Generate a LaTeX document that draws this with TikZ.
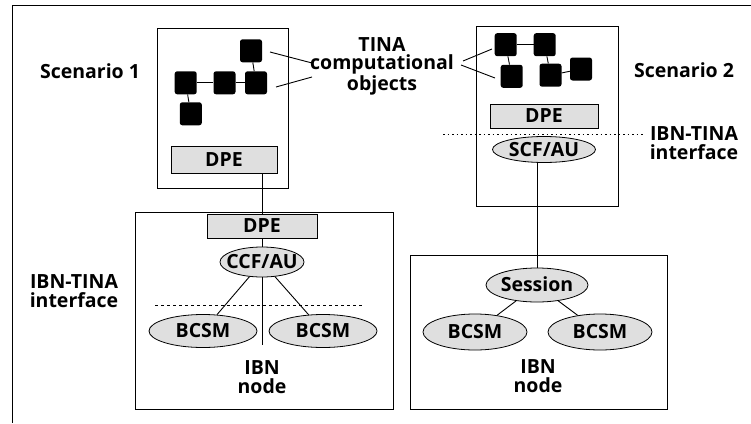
\documentclass[tikz,border=0pt]{standalone}
\usepackage{fontspec}
\setmainfont{Open Sans}
\usetikzlibrary{shapes.geometric}

% text set in a box of no size, centred on the caps, so that a node keeps its minimum size
\newcommand{\intext}[1]{\makebox[0pt]{\raisebox{-0.357em}[0pt][0pt]{#1}}}

\begin{document}
\begin{tikzpicture}[x=1pt,y=-1pt,
  every node/.style={font=\fontsize{19.5}{18.5}\selectfont\bfseries},
  lbl/.style={align=center, inner sep=0pt},
  panel/.style={draw, line width=0.9pt, inner sep=0pt},
  obj/.style={fill=black, rounded corners=2.5pt, minimum width=22pt, minimum height=23pt, inner sep=0pt},
  dpebox/.style={draw, line width=0.8pt, fill=gray!25, inner sep=0pt},
  unit/.style={ellipse, draw, line width=0.8pt, fill=gray!25, inner sep=0pt},
  link/.style={line width=0.9pt},
  ifdash/.style={line width=0.8pt, dash pattern=on 3pt off 3pt},
  ifdot/.style={line width=0.9pt, dash pattern=on 1.5pt off 3pt}
]
\useasboundingbox (0,0) rectangle (751,423);

% outer frame
\draw[line width=0.6pt] (751,5.5) -- (12,5.5) -- (12,423);

% ---------------- Scenario 1 ----------------
\node[panel, minimum width=131pt, minimum height=160pt] (s1) at (222.5,108) {};
\node[lbl] (sc1) at (90,71) {Scenario 1};

% computational objects
\node[obj] (a1) at (185.7,82.8) {};
\node[obj] (b1) at (224.5,82.8) {};
\node[obj] (c1) at (256,82.8) {};
\node[obj] (d1) at (251,50.8) {};
\node[obj] (e1) at (190.8,113.8) {};
\draw[link] (a1) -- (b1) -- (c1);
\draw[link] (d1) -- (c1);
\draw[link] (a1) -- (e1);

\node[dpebox, minimum width=106pt, minimum height=27pt] (dpe1) at (224,159.5) {\intext{DPE}};

% IBN node of scenario 1
\node[panel, minimum width=258pt, minimum height=197pt] (ibn1) at (264,310.5) {};
\node[dpebox, minimum width=110pt, minimum height=24pt] (dpe3) at (262,226) {\intext{DPE}};
\node[unit, minimum width=84pt, minimum height=30pt] (ccf) at (262,262) {\intext{CCF/AU}};
\node[unit, minimum width=108pt, minimum height=33pt] (bl1) at (203,331) {\intext{BCSM}};
\node[unit, minimum width=108pt, minimum height=33pt] (br1) at (323,331) {\intext{BCSM}};
\node[lbl] (ibnt1) at (262,377) {IBN\\node};
\coordinate (mid1) at (262,345);
\coordinate (dl1) at (155,305);
\coordinate (dr1) at (362,305);
\draw[ifdash] (dl1) -- (dr1);
\draw[link] (dpe1.south -| ccf.north) -- (dpe3.north);
\draw[link] (dpe3) -- (ccf);
\draw[link] (ccf) -- (mid1);
\draw[link] (ccf) -- (bl1);
\draw[link] (ccf) -- (br1);
\node[lbl] (if1) at (74,291) {IBN-TINA\\interface};

% shared label for the computational objects
\node[lbl] (tina) at (382,66) {TINA\\computational\\objects};
\coordinate (t1) at (312,63);
\coordinate (t2) at (312,77);
\coordinate (t3) at (463,61);
\coordinate (t4) at (461,65);
\draw[link] (t1) -- (270,52);
\draw[link] (t2) -- (276,87);

% ---------------- Scenario 2 ----------------
\node[panel, minimum width=142pt, minimum height=180pt] (s2) at (547,116) {};
\node[lbl] (sc2) at (684,70) {Scenario 2};

\node[obj] (a2) at (505.7,44.7) {};
\node[obj] (b2) at (544.7,44.7) {};
\node[obj] (c2) at (511.7,76.3) {};
\node[obj] (d2) at (550.5,75.2) {};
\node[obj] (e2) at (581,69) {};
\draw[link] (a2) -- (b2);
\draw[link] (a2) -- (c2);
\draw[link] (b2) -- (d2);
\draw[link] (d2) -- (e2);
\draw[link] (t3) -- (492,49);
\draw[link] (t4) -- (495,78);

\node[dpebox, minimum width=108pt, minimum height=24pt] (dpe2) at (544,116) {\intext{DPE}};
\node[unit, minimum width=103pt, minimum height=26pt] (scf) at (544,149.5) {\intext{SCF/AU}};
\coordinate (dl2) at (443,134);
\coordinate (dr2) at (645,134);
\draw[ifdot] (dl2) -- (dr2);
\node[lbl] (if2) at (694,143) {IBN-TINA\\interface};

% IBN node of scenario 2
\node[panel, minimum width=257pt, minimum height=154pt] (ibn2) at (538.5,332) {};
\node[unit, minimum width=102pt, minimum height=34pt] (ses) at (537,285) {\intext{Session}};
\node[unit, minimum width=104pt, minimum height=36pt] (bl2) at (475,332) {\intext{BCSM}};
\node[unit, minimum width=104pt, minimum height=36pt] (br2) at (600,332) {\intext{BCSM}};
\node[lbl] (ibnt2) at (538,376) {IBN\\node};
\draw[link] (scf.south -| ses.north) -- (ses.north);
\draw[link] (ses) -- (bl2);
\draw[link] (ses) -- (br2);
\end{tikzpicture}
\end{document}
